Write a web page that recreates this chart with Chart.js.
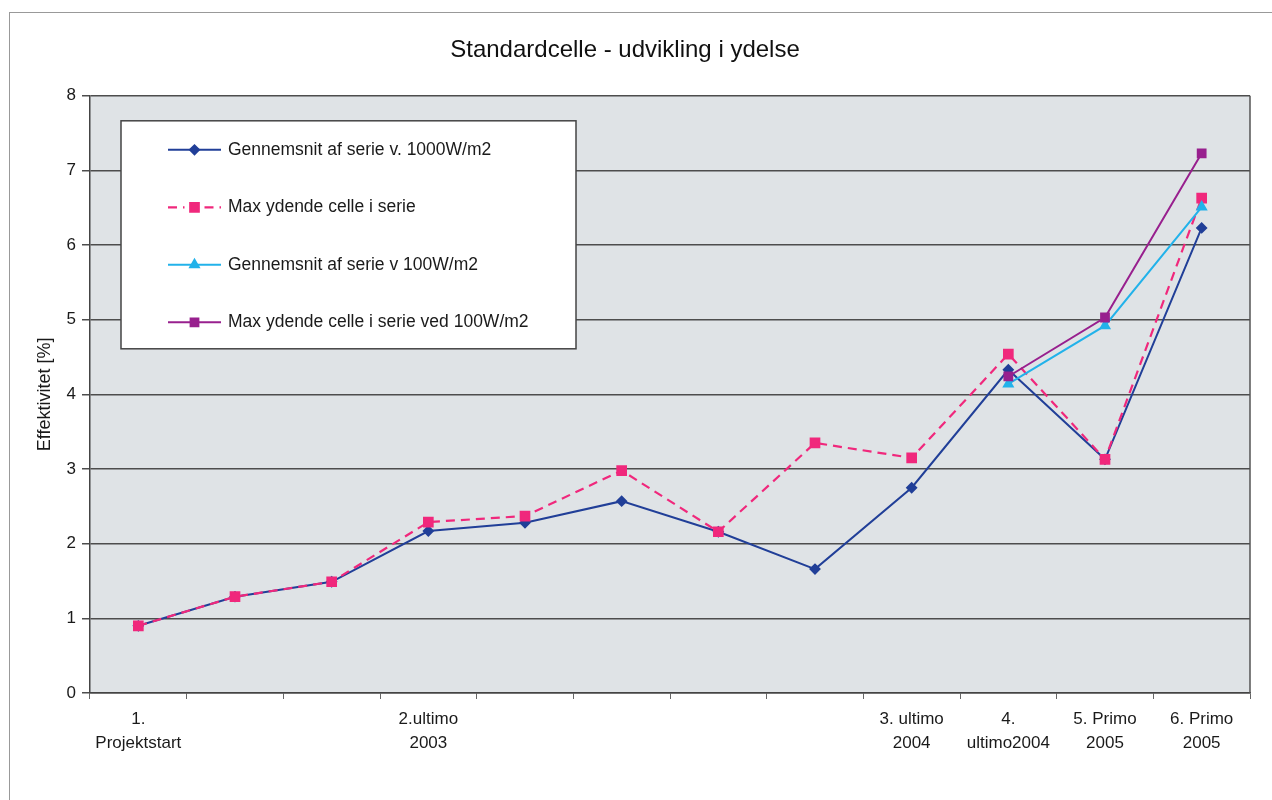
<!DOCTYPE html>
<html>
<head>
<meta charset="utf-8">
<script src="https://cdn.jsdelivr.net/npm/chart.js@4.4.0/dist/chart.umd.min.js"></script>
<style>
  html, body { margin: 0; padding: 0; background: #fff; }
  #wrap { position: relative; width: 1272px; height: 800px; }
  #frame { position: absolute; left: 9px; top: 12px; width: 1270px; height: 800px; border-left: 1.5px solid #999; border-top: 1.5px solid #999; pointer-events: none; }
</style>
</head>
<body>
<div id="wrap">
  <canvas id="chart" width="1272" height="800"></canvas>
  <div id="frame"></div>
</div>
<script>
// Categories (x axis): 12 measurement rounds, only some labelled
const categories = [
  ['1.', 'Projektstart'], '', '', ['2.ultimo', '2003'], '', '', '', '',
  ['3. ultimo', '2004'], ['4.', 'ultimo2004'], ['5. Primo', '2005'], ['6. Primo', '2005']
];

// Series values (efficiency in %)
const avg1000 = [0.90, 1.29, 1.49, 2.17, 2.28, 2.57, 2.16, 1.66, 2.75, 4.33, 3.13, 6.23];
const max1000 = [0.90, 1.29, 1.49, 2.29, 2.37, 2.98, 2.16, 3.35, 3.15, 4.54, 3.13, 6.63];
const avg100 = [null, null, null, null, null, null, null, null, null, 4.14, 4.92, 6.51];
const max100 = [null, null, null, null, null, null, null, null, null, 4.24, 5.03, 7.23];

const seriesNames = [
  'Gennemsnit af serie v. 1000W/m2',
  'Max ydende celle i serie',
  'Gennemsnit af serie v 100W/m2',
  'Max ydende celle i serie ved 100W/m2'
];

const FONT = '"Liberation Sans", Arial, sans-serif';

// Plot background + right border of the plot area
const plotBackground = {
  id: 'plotBackground',
  beforeDraw(chart) {
    const { ctx, chartArea: a } = chart;
    ctx.save();
    ctx.fillStyle = '#dfe3e6';
    ctx.fillRect(a.left, a.top, a.right - a.left, a.bottom - a.top);
    ctx.restore();
  },
  beforeDatasetsDraw(chart) {
    const { ctx, chartArea: a } = chart;
    ctx.save();
    ctx.strokeStyle = '#555';
    ctx.lineWidth = 1.5;
    ctx.beginPath();
    ctx.moveTo(a.right, a.top);
    ctx.lineTo(a.right, a.bottom);
    ctx.stroke();
    ctx.restore();
  }
};

// Boxed legend inside the plot, upper left
const boxLegend = {
  id: 'boxLegend',
  afterDraw(chart) {
    const { ctx, chartArea: a } = chart;
    const x0 = a.left + 31, y0 = a.top + 25, w = 455, h = 228;
    ctx.save();
    ctx.fillStyle = '#fff';
    ctx.fillRect(x0, y0, w, h);
    ctx.strokeStyle = '#444';
    ctx.lineWidth = 1.5;
    ctx.strokeRect(x0, y0, w, h);

    chart.data.datasets.forEach((ds, i) => {
      const cy = y0 + 29 + i * 57.5;
      const lx0 = x0 + 47, lx1 = x0 + 100, mx = (lx0 + lx1) / 2;
      ctx.strokeStyle = ds.borderColor;
      ctx.lineWidth = ds.borderWidth;
      ctx.setLineDash(ds.borderDash || []);
      ctx.beginPath();
      if (ds.borderDash) {
        ctx.moveTo(lx0, cy); ctx.lineTo(mx - 10, cy);
        ctx.moveTo(mx + 10, cy); ctx.lineTo(lx1, cy);
      } else {
        ctx.moveTo(lx0, cy); ctx.lineTo(lx1, cy);
      }
      ctx.stroke();
      ctx.setLineDash([]);
      ctx.fillStyle = ds.pointBackgroundColor;
      ctx.strokeStyle = ds.pointBorderColor;
      Chart.helpers.drawPoint(ctx, {
        pointStyle: ds.pointStyle, radius: ds.pointRadius, rotation: 0, borderWidth: 1
      }, mx, cy);
      ctx.fillStyle = '#1a1a1a';
      ctx.font = '17.5px ' + FONT;
      ctx.textBaseline = 'middle';
      ctx.textAlign = 'left';
      ctx.fillText(ds.label, x0 + 107, cy);
    });
    ctx.restore();
  }
};

function line(label, data, color, style, radius, order, dash) {
  return {
    label, data, order,
    borderColor: color,
    backgroundColor: color,
    pointBackgroundColor: color,
    pointBorderColor: color,
    borderWidth: dash ? 2.2 : 2,
    borderDash: dash,
    pointStyle: style,
    pointRadius: radius,
    pointHoverRadius: radius,
    tension: 0,
    spanGaps: false
  };
}

new Chart(document.getElementById('chart').getContext('2d'), {
  type: 'line',
  data: {
    labels: categories,
    datasets: [
      line(seriesNames[0], avg1000, '#213f98', 'rectRot', 4.5, 4),
      line(seriesNames[1], max1000, '#f0287c', 'rect', 6, 3, [9, 6]),
      line(seriesNames[2], avg100, '#22b2ea', 'triangle', 5, 2),
      line(seriesNames[3], max100, '#98208e', 'rect', 5.5, 1)
    ]
  },
  options: {
    responsive: false,
    animation: false,
    layout: { padding: { left: 0, right: 22, top: 0, bottom: 0 } },
    plugins: {
      legend: { display: false },
      tooltip: { enabled: false },
      title: {
        display: true,
        text: 'Standardcelle - udvikling i ydelse',
        color: '#111',
        font: { family: FONT, size: 24, weight: 'normal' },
        padding: { top: 36, bottom: 31 }
      }
    },
    scales: {
      x: {
        offset: true,
        grid: { display: true, offset: true, drawOnChartArea: false, tickLength: 6, color: '#666', lineWidth: 1 },
        border: { display: true, color: '#444', width: 1.5 },
        ticks: {
          autoSkip: false, maxRotation: 0, minRotation: 0,
          color: '#1a1a1a', padding: 9,
          font: { family: FONT, size: 17, lineHeight: 1.38 }
        },
        afterFit: (s) => { s.height = 107; }
      },
      y: {
        min: 0, max: 8,
        ticks: { stepSize: 1, color: '#1a1a1a', padding: 6, font: { family: FONT, size: 17 } },
        grid: { color: '#4d4d4d', lineWidth: 1.5, tickLength: 8 },
        border: { display: true, color: '#444', width: 1.5 },
        title: {
          display: true,
          text: 'Effektivitet [%]',
          color: '#1a1a1a',
          font: { family: FONT, size: 18 },
          padding: { top: 34, bottom: 0 }
        },
        afterFit: (s) => { s.width = 90; }
      }
    }
  },
  plugins: [plotBackground, boxLegend]
});
</script>
</body>
</html>
